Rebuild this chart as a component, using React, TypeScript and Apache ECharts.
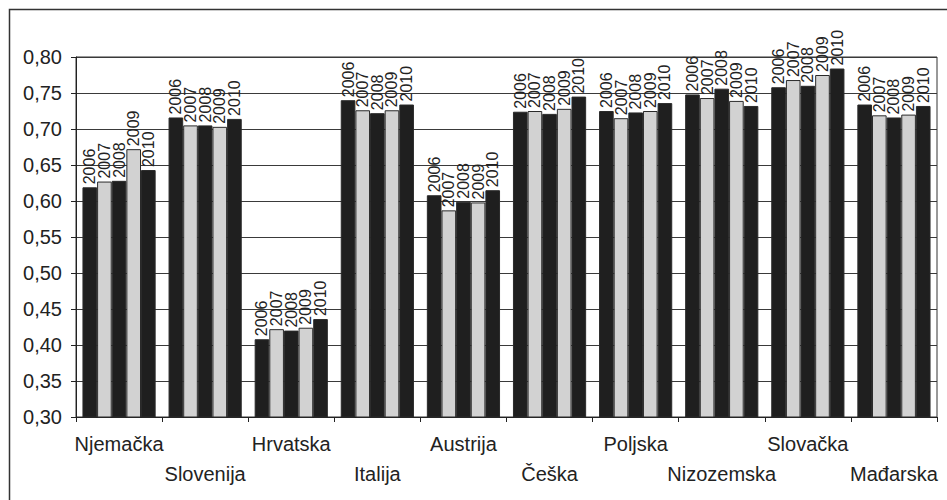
import React, { useEffect, useRef } from "react";
import * as echarts from "echarts";

const countries = [
  "Njemačka",
  "Slovenija",
  "Hrvatska",
  "Italija",
  "Austrija",
  "Češka",
  "Poljska",
  "Nizozemska",
  "Slovačka",
  "Mađarska",
];

const years = ["2006", "2007", "2008", "2009", "2010"];

const values2006 = [0.619, 0.716, 0.408, 0.740, 0.608, 0.724, 0.725, 0.748, 0.758, 0.734];
const values2007 = [0.627, 0.705, 0.422, 0.726, 0.587, 0.725, 0.715, 0.743, 0.768, 0.719];
const values2008 = [0.628, 0.705, 0.420, 0.722, 0.599, 0.721, 0.723, 0.756, 0.760, 0.716];
const values2009 = [0.672, 0.703, 0.424, 0.726, 0.598, 0.728, 0.725, 0.739, 0.775, 0.720];
const values2010 = [0.643, 0.714, 0.436, 0.734, 0.615, 0.745, 0.736, 0.732, 0.784, 0.732];

const seriesValues = [values2006, values2007, values2008, values2009, values2010];

const yMin = 0.3;
const yMax = 0.8;
const yStep = 0.05;

const FONT = "'Liberation Sans', Arial, sans-serif";
const DARK = "#1f1f1f";
const LIGHT = "#d2d2d2";

export default function App() {
  const ref = useRef<HTMLDivElement>(null);

  useEffect(() => {
    document.body.style.margin = "0";
    if (!ref.current) return;
    const chart = echarts.init(ref.current, null, { renderer: "svg" });

    const series = years.map((year, i) => ({
      name: year,
      type: "bar",
      data: seriesValues[i],
      barGap: "0%",
      barCategoryGap: "15%",
      itemStyle: {
        color: i % 2 === 0 ? DARK : LIGHT,
        borderColor: "#2a2a2a",
        borderWidth: 1,
      },
      label: {
        show: true,
        position: "top",
        rotate: 90,
        align: "left",
        verticalAlign: "middle",
        distance: 3,
        formatter: () => year,
        fontFamily: FONT,
        fontSize: 16,
        color: "#222",
      },
    }));

    chart.setOption({
      animation: false,
      backgroundColor: "#fff",
      textStyle: { fontFamily: FONT },
      grid: {
        left: 76,
        right: 10,
        top: 57,
        bottom: 83,
        show: true,
        borderColor: "#333",
        borderWidth: 1,
      },
      xAxis: {
        type: "category",
        data: countries,
        axisLine: { show: true, lineStyle: { color: "#222", width: 1 } },
        axisTick: { show: true, length: 5, lineStyle: { color: "#222" } },
        axisLabel: {
          interval: 0,
          margin: 12,
          fontSize: 20,
          lineHeight: 30,
          color: "#222",
          fontFamily: FONT,
          formatter: (v: string, i: number) => (i % 2 === 1 ? "\n" + v : v),
        },
      },
      yAxis: {
        type: "value",
        min: yMin,
        max: yMax,
        interval: yStep,
        axisLine: { show: true, lineStyle: { color: "#222", width: 1 } },
        axisTick: { show: true, length: 5, lineStyle: { color: "#222" } },
        splitLine: { show: true, lineStyle: { color: "#3a3a3a", width: 1 } },
        axisLabel: {
          margin: 14,
          fontSize: 20,
          color: "#222",
          fontFamily: FONT,
          formatter: (v: number) => v.toFixed(2).replace(".", ","),
        },
      },
      graphic: [
        {
          type: "rect",
          left: 7,
          top: 7,
          shape: { width: 980, height: 540 },
          style: { fill: "none", stroke: "#333", lineWidth: 1.5 },
          silent: true,
        },
      ],
      series,
    });

    return () => chart.dispose();
  }, []);

  return <div ref={ref} style={{ width: 947, height: 500 }} />;
}
